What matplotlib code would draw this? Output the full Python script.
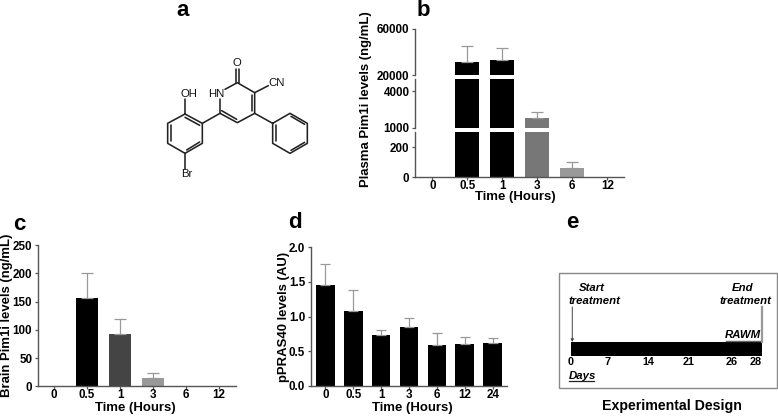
import matplotlib
matplotlib.use('Agg')
import matplotlib.pyplot as plt

W, H = 778, 417
plt.rcParams['font.family'] = ['Liberation Sans', 'DejaVu Sans']
plt.rcParams['font.weight'] = 'bold'

# panel b
plasma_times = ['0', '0.5', '1', '3', '6', '12']
plasma_values = [0, 31700, 32900, 1770, 59, 0]
plasma_tops = [0, 44900, 43700, 2320, 101, 0]
plasma_colors = ['black', 'black', 'black', '#777777', '#999999', '#999999']

# panel c
brain_times = ['0', '0.5', '1', '3', '6', '12']
brain_values = [0, 157, 93, 15, 0, 0]
brain_tops = [0, 201, 119, 24, 0, 0]
brain_colors = ['black', 'black', '#444444', '#999999', '#999999', '#999999']

# panel d
pras_times = ['0', '0.5', '1', '3', '6', '12', '24']
pras_values = [1.45, 1.08, 0.74, 0.85, 0.59, 0.60, 0.62]
pras_tops = [1.76, 1.39, 0.81, 0.98, 0.77, 0.71, 0.69]

# panel e
design_days = ['0', '7', '14', '21', '26', '28']
design_day_px = [571, 608, 648, 689, 732, 756]

AXIS = '#555555'
ERR = '#999999'
TICK = 8.4
LABEL = 9.45

fig = plt.figure(figsize=(W / 100, H / 100), dpi=100)


def px_axes(left, right, top, bottom):
    ax = fig.add_axes([left / W, 1 - bottom / H, (right - left) / W, (bottom - top) / H])
    ax.patch.set_alpha(0)
    ax.spines['top'].set_visible(False)
    ax.spines['right'].set_visible(False)
    ax.spines['left'].set_color(AXIS)
    ax.spines['bottom'].set_color(AXIS)
    ax.spines['left'].set_linewidth(1.0)
    ax.spines['bottom'].set_linewidth(1.0)
    ax.tick_params(length=2, width=0.9, color=AXIS, labelsize=TICK, pad=2)
    ax.tick_params(axis='x', pad=0)
    return ax


def bars(ax, values, tops, colors, width, err_lw=0.9, cap=4):
    xs = range(len(values))
    ax.bar(xs, values, width=width, color=colors, linewidth=0)
    for x, v, t in zip(xs, values, tops):
        if t > v:
            ax.errorbar(x, v, yerr=[[0], [t - v]], fmt='none', ecolor=ERR,
                        elinewidth=err_lw, capsize=cap, capthick=err_lw)


def px_text(x, y, s, **kw):
    fig.text(x / W, 1 - y / H, s, ha=kw.pop('ha', 'center'), va=kw.pop('va', 'center'), **kw)


# b: broken y axis, three pieces
segments = [
    (132.3, 177.3, (0, 300), [0, 200]),
    (79.3, 127.7, (1000, 5000), [1000, 4000]),
    (28.7, 75.3, (20000, 60000), [20000, 60000]),
]
for i, (top, bottom, ylim, yticks) in enumerate(segments):
    ax = px_axes(415, 624, top, bottom)
    bars(ax, plasma_values, plasma_tops, plasma_colors, 0.677)
    ax.set_xlim(-0.494, 5.477)
    ax.set_ylim(*ylim)
    ax.set_yticks(yticks)
    ax.set_yticklabels([str(t) for t in yticks])
    if i == 0:
        ax.set_xticks(range(len(plasma_times)))
        ax.set_xticklabels(plasma_times)
    else:
        ax.spines['bottom'].set_visible(False)
        ax.set_xticks([])
px_text(366, 99, 'Plasma Pim1i levels (ng/mL)', rotation=90, fontsize=LABEL)
px_text(515, 197.5, 'Time (Hours)', fontsize=LABEL)

# c
ax = px_axes(37.7, 235.7, 245, 386.3)
bars(ax, brain_values, brain_tops, brain_colors, 0.68)
ax.set_xlim(-0.494, 5.506)
ax.set_ylim(0, 250)
ax.set_yticks([0, 50, 100, 150, 200, 250])
ax.set_xticks(range(len(brain_times)))
ax.set_xticklabels(brain_times)
px_text(7, 315, 'Brain Pim1i levels (ng/mL)', rotation=90, fontsize=LABEL)
px_text(135, 408.5, 'Time (Hours)', fontsize=LABEL)

# d
ax = px_axes(310.7, 506.7, 247.3, 386)
bars(ax, pras_values, pras_tops, ['black'] * len(pras_values), 0.67, cap=3.5)
ax.set_xlim(-0.523, 6.5)
ax.set_ylim(0, 2.0)
ax.set_yticks([0, 0.5, 1.0, 1.5, 2.0])
ax.set_yticklabels(['0.0', '0.5', '1.0', '1.5', '2.0'])
ax.set_xticks(range(len(pras_times)))
ax.set_xticklabels(pras_times)
px_text(284, 317, 'pPRAS40 levels (AU)', rotation=90, fontsize=LABEL)
px_text(412, 408.5, 'Time (Hours)', fontsize=LABEL)

# overlay in pixel coordinates for the structure and the timeline
ov = fig.add_axes([0, 0, 1, 1])
ov.set_xlim(0, W)
ov.set_ylim(H, 0)
ov.axis('off')
ov.patch.set_alpha(0)


def mol(points, lw=1.15):
    # points are in zoomed crop units of the structure
    xs = [130 + p[0] / 3 for p in points]
    ys = [p[1] / 3 for p in points]
    ov.plot(xs, ys, color='#222222', lw=lw, solid_capstyle='round')


# a: structure
mol([(165, 342), (217, 370), (217, 430), (165, 460), (113, 430), (113, 370), (165, 342)])
mol([(122, 376), (122, 424)])
mol([(170, 450), (209, 426)])
mol([(165, 352), (209, 376)])
mol([(165, 342), (165, 297)])
mol([(165, 460), (165, 507)])
mol([(217, 370), (270, 340), (322, 368), (374, 340), (374, 278), (322, 248), (285, 268)])
mol([(270, 340), (270, 298)])
mol([(275, 332), (320, 358)])
mol([(365, 334), (365, 284)])
mol([(317, 248), (317, 206)])
mol([(327, 248), (327, 206)])
mol([(374, 278), (415, 257)])
mol([(374, 340), (428, 370), (480, 340), (532, 370), (532, 430), (480, 460), (428, 430), (428, 370)])
mol([(437, 376), (437, 424)])
mol([(483, 349), (524, 373)])
mol([(483, 451), (524, 427)])
for x, y, s in [(178, 282, 'OH'), (258, 282, 'HN'), (322, 190, 'O'), (441, 250, 'CN'), (171, 523, 'Br')]:
    px_text(130 + x / 3, y / 3, s, fontsize=8.2, fontweight='normal', color='#111111')

# e: timeline
ov.add_patch(plt.Rectangle((559.3, 272.7), 217.4, 115.6, fc='white', ec='#888888', lw=1.0))
ov.barh(349.2, 191.6, height=13.7, left=570.7, color='black')
ov.annotate('', xy=(572.3, 342), xytext=(572.3, 307),
            arrowprops=dict(arrowstyle='-|>', color='#444444', lw=0.7, mutation_scale=4, shrinkA=0, shrinkB=0))
ov.plot([762, 762], [307, 342], color='#999999', lw=1.6)
ov.plot([725.7, 760], [341, 341], color='#666666', lw=1.0)
ov.plot([569, 594], [381, 381], color='#222222', lw=0.9)
for d, x in zip(design_days, design_day_px):
    px_text(x, 361.8, d, fontsize=7.8)
for x, y, s in [(592, 288, 'Start'), (594, 301, 'treatment'), (743, 288, 'End'),
                (745, 301, 'treatment'), (743, 335, 'RAWM'), (582, 376, 'Days')]:
    px_text(x, y, s, fontsize=8.2, fontstyle='italic')
px_text(672, 406, 'Experimental Design', fontsize=10.2)

# panel letters
for x, y, s in [(183, 11, 'a'), (423, 10, 'b'), (19, 224, 'c'), (295, 223, 'd'), (572, 222, 'e')]:
    px_text(x, y, s, fontsize=16)

fig.savefig('out.png', dpi=100)
